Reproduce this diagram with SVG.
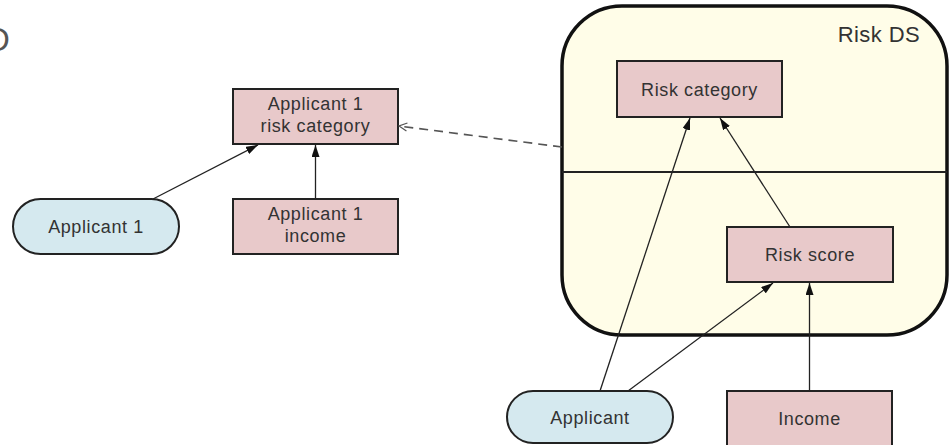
<svg xmlns="http://www.w3.org/2000/svg" width="951" height="445" viewBox="0 0 951 445">
  <defs>
    <style>
      .box { fill: #e8c9ca; stroke: #222; stroke-width: 2; }
      .pill { fill: #d5e9ef; stroke: #222; stroke-width: 2; }
      .lbl { font-family: "Liberation Sans", Arial, sans-serif; font-size: 18px; fill: #333; text-anchor: middle; letter-spacing: 0.6px; }
      .edge { stroke: #222; stroke-width: 1.3; fill: none; }
      .dash { stroke: #555; stroke-width: 1.6; fill: none; stroke-dasharray: 9 6; }
    </style>
    <marker id="tri" viewBox="0 0 12 8" refX="12" refY="4" markerWidth="12" markerHeight="8" markerUnits="userSpaceOnUse" orient="auto">
      <path d="M0,0 L12,4 L0,8 z" fill="#111"/>
    </marker>
    <marker id="open" viewBox="0 0 10 10" refX="9" refY="5" markerWidth="10" markerHeight="10" markerUnits="userSpaceOnUse" orient="auto">
      <path d="M1,1 L9,5 L1,9" fill="none" stroke="#555" stroke-width="1.2"/>
    </marker>
  </defs>
  <rect width="951" height="445" fill="#ffffff"/>
  <text x="-14" y="51" font-family="Liberation Sans, Arial, sans-serif" font-size="33" fill="#555">D</text>

  <g id="risk-ds">
    <rect x="562" y="6" width="385" height="329" rx="60" ry="60" fill="#fffde8" stroke="#111" stroke-width="3.5"/>
    <line x1="562" y1="172" x2="947" y2="172" stroke="#222" stroke-width="2"/>
    <text x="920" y="42" font-family="Liberation Sans, Arial, sans-serif" font-size="22" fill="#333" text-anchor="end" letter-spacing="0.4">Risk DS</text>
  </g>

  <g id="applicant1-risk-category">
    <rect class="box" x="233" y="89" width="165" height="55"/>
    <text class="lbl" x="315.5" y="110">Applicant 1</text>
    <text class="lbl" x="315.5" y="132">risk category</text>
  </g>
  <g id="applicant1-income">
    <rect class="box" x="233" y="199" width="165" height="55"/>
    <text class="lbl" x="315.5" y="220">Applicant 1</text>
    <text class="lbl" x="315.5" y="242">income</text>
  </g>
  <g id="applicant1">
    <rect class="pill" x="13" y="199" width="166" height="55" rx="27.5" ry="27.5"/>
    <text class="lbl" x="96" y="233">Applicant 1</text>
  </g>
  <g id="risk-category">
    <rect class="box" x="617" y="61" width="165" height="56"/>
    <text class="lbl" x="699.5" y="96">Risk category</text>
  </g>
  <g id="risk-score">
    <rect class="box" x="727" y="227" width="166" height="55"/>
    <text class="lbl" x="810" y="261">Risk score</text>
  </g>
  <g id="applicant">
    <rect class="pill" x="507" y="391" width="166" height="52" rx="26" ry="26"/>
    <text class="lbl" x="590" y="424">Applicant</text>
  </g>
  <g id="income">
    <rect class="box" x="727" y="391" width="165" height="60"/>
    <text class="lbl" x="809.5" y="425">Income</text>
  </g>

  <g id="connectors">
    <line class="edge" x1="153" y1="199" x2="258" y2="145" marker-end="url(#tri)"/>
    <line class="edge" x1="315.5" y1="199" x2="315.5" y2="145" marker-end="url(#tri)"/>
    <line class="dash" x1="562" y1="147" x2="399" y2="126" marker-end="url(#open)"/>
    <line class="edge" x1="600" y1="391" x2="690" y2="118" marker-end="url(#tri)"/>
    <line class="edge" x1="628" y1="391" x2="773" y2="283" marker-end="url(#tri)"/>
    <line class="edge" x1="790" y1="227" x2="720" y2="118" marker-end="url(#tri)"/>
    <line class="edge" x1="809.5" y1="391" x2="809.5" y2="283" marker-end="url(#tri)"/>
  </g>
</svg>
